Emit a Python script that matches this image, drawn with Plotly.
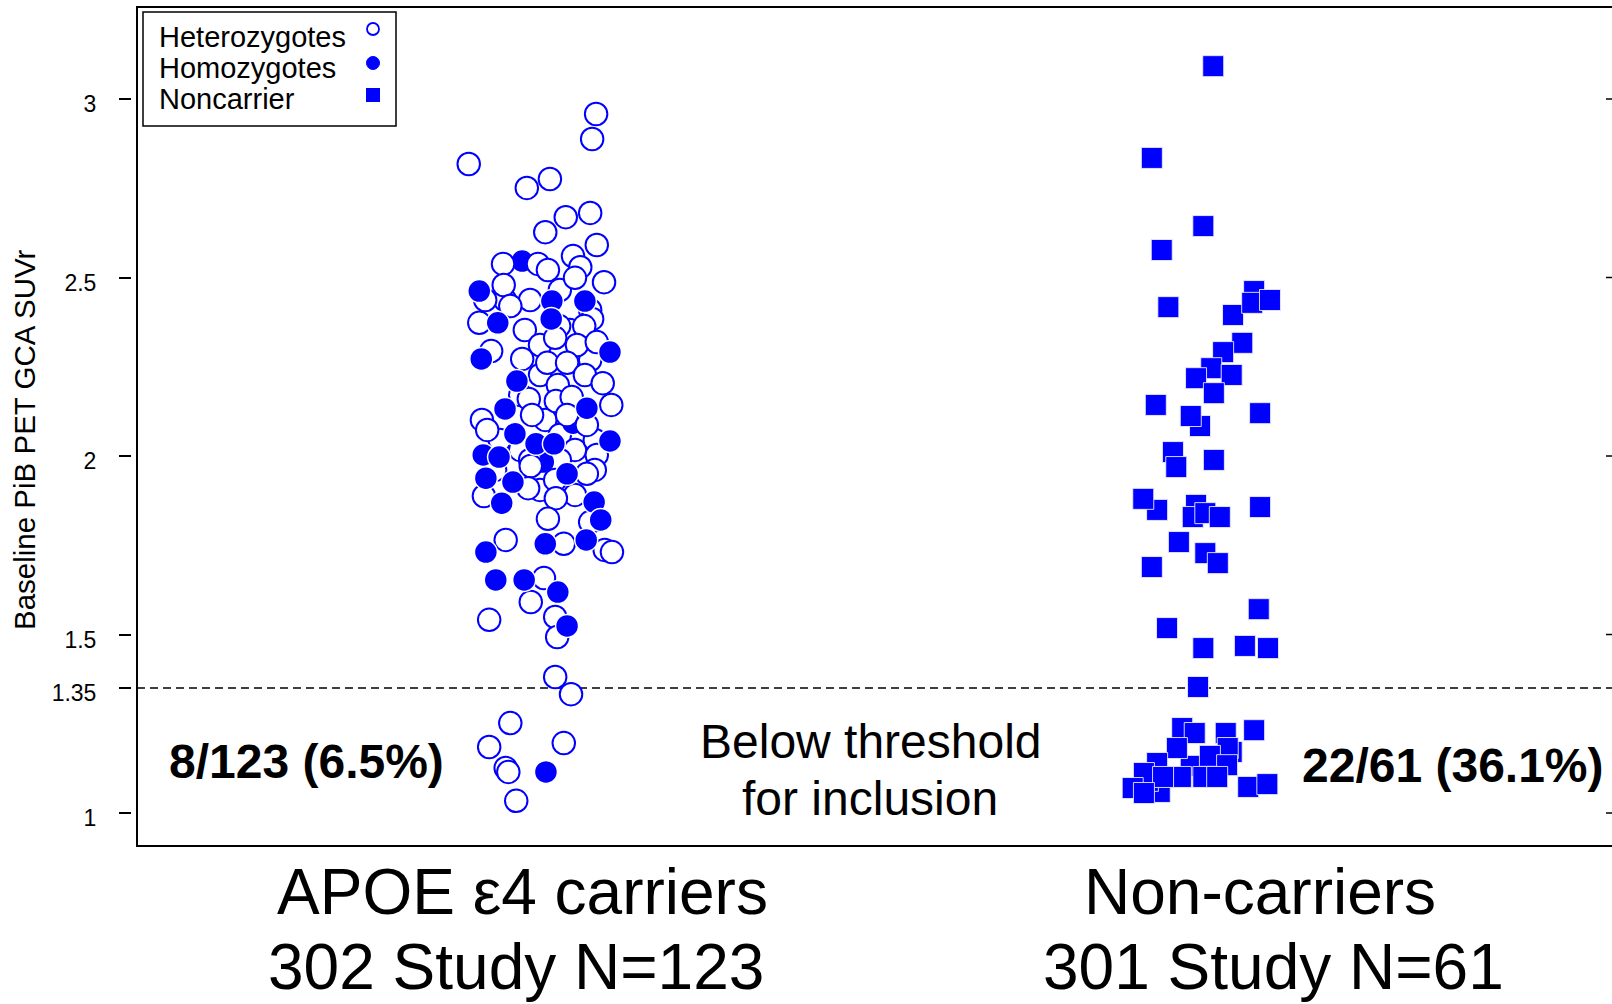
import plotly.graph_objects as go

# ---------------------------------------------------------------------------
# Data: baseline PiB PET GCA SUVr per subject, plus a small horizontal jitter
# (in category units) so overlapping subjects stay visible.
# ---------------------------------------------------------------------------

# APOE e4 heterozygotes (302 study); first 18 sit in the crowded middle and are drawn underneath
het_suvr = [
    2.353, 2.353, 2.227, 2.171, 2.101, 2.059, 2.045, 2.017, 2.017, 1.989,
    1.905, 1.891, 2.437, 2.465, 2.437, 2.269, 2.045, 1.961,
    2.958, 2.888, 2.818, 2.751, 2.776, 2.669, 2.681, 2.627, 2.591, 2.538,
    2.538, 2.521, 2.560, 2.529, 2.499, 2.487, 2.479, 2.437, 2.420, 2.409,
    2.373, 2.364, 2.384, 2.364, 2.311, 2.331, 2.311, 2.319, 2.294, 2.272,
    2.261, 2.261, 2.227, 2.204, 2.160, 2.199, 2.154, 2.165, 2.143, 2.115,
    2.101, 2.073, 2.115, 2.087, 1.989, 2.003, 1.972, 1.961, 1.950, 1.933,
    1.910, 1.888, 1.882, 1.815, 1.824, 1.765, 1.754, 1.737, 1.731, 1.658,
    1.591, 1.549, 1.541, 1.493, 1.381, 1.333, 1.252, 1.185, 1.196, 1.126,
    1.115, 1.034,
]
het_jitter = [
    -0.023, 0.045, 0.000, -0.030, 0.008, 0.030, -0.061, -0.030, 0.053, 0.030,
    0.000, 0.053, -0.053, 0.030, -0.015, 0.076, 0.083, -0.068,
    0.085, 0.079, -0.108, -0.020, 0.015, 0.039, 0.076, 0.008, 0.086, -0.056,
    -0.003, 0.012, 0.050, 0.061, 0.053, 0.097, -0.055, -0.083, -0.045, 0.076,
    -0.092, 0.029, 0.079, 0.067, 0.000, 0.023, 0.056, 0.086, -0.074, -0.027,
    0.011, 0.041, 0.068, 0.095, -0.017, 0.027, 0.024, 0.048, 0.108, -0.012,
    -0.088, -0.080, 0.041, 0.071, -0.015, 0.086, -0.014, 0.083, 0.071, 0.023,
    -0.018, -0.085, 0.024, 0.076, 0.012, -0.052, 0.036, 0.098, 0.109, 0.006,
    -0.014, 0.023, -0.077, 0.026, 0.023, 0.047, -0.045, -0.077, 0.036, -0.052,
    -0.048, -0.036,
]

# APOE e4 homozygotes (302 study); first 3 are partly covered by heterozygotes
hom_suvr = [
    2.092, 1.983, 2.546,
    2.462, 2.434, 2.434, 2.373, 2.384, 2.272, 2.291, 2.210, 2.132, 2.134,
    2.062, 2.034, 2.034, 2.042, 2.003, 1.997, 1.950, 1.938, 1.927, 1.868,
    1.871, 1.821, 1.731, 1.754, 1.765, 1.653, 1.653, 1.619, 1.524, 1.115,
]
hom_jitter = [
    0.050, 0.005, -0.027,
    -0.092, 0.018, 0.068, -0.064, 0.017, -0.089, 0.106, -0.035, -0.053, 0.071,
    -0.038, -0.006, 0.021, 0.106, -0.086, -0.062, 0.041, -0.082, -0.041, -0.058,
    0.082, 0.092, -0.082, 0.008, 0.070, -0.067, -0.024, 0.027, 0.041, 0.009,
]

# Non-carriers (301 study)
noncarrier_suvr = [
    2.462, 2.084, 2.011, 1.849, 1.863, 1.059, 1.132, 1.171, 1.090,
    3.092, 2.835, 2.644, 2.577, 2.417, 2.395, 2.429, 2.437, 2.317, 2.291,
    2.246, 2.227, 2.218, 2.176, 2.143, 2.120, 2.112, 1.969, 1.989, 1.880,
    1.829, 1.840, 1.829, 1.857, 1.759, 1.728, 1.700, 1.689, 1.571, 1.518,
    1.462, 1.468, 1.462, 1.353,
    1.238, 1.224, 1.224, 1.232, 1.182, 1.182, 1.160, 1.140, 1.134, 1.112,
    1.101, 1.101, 1.101, 1.101, 1.070, 1.056, 1.073, 1.081,
]
noncarrier_jitter = [
    0.082, 0.000, -0.041, -0.065, -0.006, -0.061, -0.014, 0.048, -0.079,
    0.020, -0.073, 0.005, -0.058, -0.048, 0.050, 0.079, 0.106, 0.064, 0.035,
    0.017, 0.048, -0.006, 0.021, -0.067, 0.091, -0.014, -0.036, 0.021, -0.086,
    -0.011, 0.008, 0.030, 0.091, -0.032, 0.008, 0.027, -0.073, 0.089, -0.050,
    0.005, 0.068, 0.103, -0.003,
    -0.027, -0.008, 0.039, 0.082, -0.035, 0.042, 0.015, -0.065, 0.041, -0.085,
    -0.029, 0.005, 0.026, -0.056, -0.102, -0.085, 0.073, 0.102,
]

group_positions = [1, 2]
group_names = ["APOE ε4 carriers", "Non-carriers"]
group_studies = ["302", "301"]
legend_labels = ["Heterozygotes", "Homozygotes", "Noncarrier"]

threshold = 1.35
y_tickvals = [1, 1.35, 1.5, 2, 2.5, 3]
y_ticktext = ["1", "1.35", "1.5", "2", "2.5", "3"]
right_tickvals = [1, 1.5, 2, 2.5, 3]

# ---------------------------------------------------------------------------
# Layout constants (pixels)
# ---------------------------------------------------------------------------
W, H = 1612, 1004
MT, MB = 7, 158
PLOT_LEFT = 137
FONT = "Liberation Sans, Arial, Helvetica, sans-serif"
BLUE = "#0000FF"


def px_x(p):
    return p / W


def px_y(p):
    return (H - MB - p) / (H - MT - MB)


fig = go.Figure()

# carriers: draw in layers so partly hidden subjects stay underneath
carrier_layers = [
    ("het", 0, 18),
    ("hom", 0, 3),
    ("het", 18, len(het_suvr)),
    ("hom", 3, len(hom_suvr)),
]
for kind, i0, i1 in carrier_layers:
    if kind == "het":
        ys, js = het_suvr[i0:i1], het_jitter[i0:i1]
        marker = dict(symbol="circle", size=22.5, color="white",
                      line=dict(color=BLUE, width=2))
        name = legend_labels[0]
    else:
        ys, js = hom_suvr[i0:i1], hom_jitter[i0:i1]
        marker = dict(symbol="circle", size=23, color=BLUE,
                      line=dict(color="white", width=1.5))
        name = legend_labels[1]
    fig.add_trace(go.Scatter(
        x=[group_positions[0] + j for j in js], y=ys,
        mode="markers", marker=marker, name=name,
        showlegend=False, hoverinfo="y",
    ))

fig.add_trace(go.Scatter(
    x=[group_positions[1] + j for j in noncarrier_jitter], y=noncarrier_suvr,
    mode="markers", name=legend_labels[2], showlegend=False, hoverinfo="y",
    marker=dict(symbol="square", size=21, color=BLUE,
                line=dict(color="rgba(235,235,255,0.9)", width=1)),
))

shapes = []
# plot frame (open on the right, continues past the page edge)
shapes.append(dict(type="rect", xref="paper", yref="paper",
                   x0=px_x(PLOT_LEFT), x1=1.02, y0=0, y1=1,
                   line=dict(color="black", width=2), fillcolor="rgba(0,0,0,0)",
                   layer="below"))
# inclusion threshold
shapes.append(dict(type="line", xref="paper", yref="y",
                   x0=px_x(PLOT_LEFT), x1=1, y0=threshold, y1=threshold,
                   line=dict(color="black", width=1.5, dash="8px,5px"),
                   layer="below"))
# right-hand tick marks
for v in right_tickvals:
    shapes.append(dict(type="line", xref="paper", yref="y",
                       x0=px_x(1606), x1=1, y0=v, y1=v,
                       line=dict(color="black", width=1.5)))

# legend box and keys
shapes.append(dict(type="rect", xref="paper", yref="paper",
                   x0=px_x(143), x1=px_x(396), y0=px_y(126), y1=px_y(12),
                   line=dict(color="black", width=1.5), fillcolor="white"))
shapes.append(dict(type="circle", xref="paper", yref="paper",
                   x0=px_x(367), x1=px_x(379), y0=px_y(35), y1=px_y(23),
                   line=dict(color=BLUE, width=1.8), fillcolor="white"))
shapes.append(dict(type="circle", xref="paper", yref="paper",
                   x0=px_x(366.5), x1=px_x(379.5), y0=px_y(69.5), y1=px_y(56.5),
                   line=dict(color=BLUE, width=1), fillcolor=BLUE))
shapes.append(dict(type="rect", xref="paper", yref="paper",
                   x0=px_x(366), x1=px_x(380), y0=px_y(102), y1=px_y(88),
                   line=dict(color=BLUE, width=0), fillcolor=BLUE))

annotations = []


def add_text(text, x, y, size, bold=False, xanchor="center", angle=0):
    annotations.append(dict(
        text=f"<b>{text}</b>" if bold else text,
        xref="paper", yref="paper", x=px_x(x), y=px_y(y),
        xanchor=xanchor, yanchor="middle", showarrow=False, textangle=angle,
        font=dict(family=FONT, size=size, color="black"),
    ))


# legend labels
for label, ly in zip(legend_labels, [37, 68, 99]):
    add_text(label, 157, ly, 29, xanchor="left")

# y-axis title
add_text("Baseline PiB PET GCA SUVr", 25, 440, 29.5, angle=-90)

# group captions
n_carriers = len(het_suvr) + len(hom_suvr)
n_noncarriers = len(noncarrier_suvr)
add_text(group_names[0], 522, 892, 64)
add_text(f"{group_studies[0]} Study N={n_carriers}", 516, 967, 64)
add_text(group_names[1], 1260, 892, 64)
add_text(f"{group_studies[1]} Study N={n_noncarriers}", 1273, 967, 64)

# counts below the inclusion threshold
below_carriers = sum(v < threshold for v in het_suvr + hom_suvr)
below_non = sum(v < threshold for v in noncarrier_suvr)
add_text(f"{below_carriers}/{n_carriers} ({100 * below_carriers / n_carriers:.1f}%)",
         306, 761, 48, bold=True)
add_text(f"{below_non}/{n_noncarriers} ({100 * below_non / n_noncarriers:.1f}%)",
         1453, 765, 48, bold=True)
add_text("Below threshold", 871, 741, 48)
add_text("for inclusion", 870, 798, 48)

fig.update_layout(
    width=W, height=H,
    margin=dict(l=0, r=0, t=MT, b=MB),
    plot_bgcolor="white", paper_bgcolor="white",
    font=dict(family=FONT, color="black"),
    xaxis=dict(domain=[px_x(PLOT_LEFT), 1], range=[0.3894, 2.6242],
               visible=False, fixedrange=True),
    yaxis=dict(anchor="free", position=px_x(131),
               range=[0.9076, 3.2577], tickmode="array",
               tickvals=y_tickvals, ticktext=y_ticktext,
               ticks="outside", ticklen=12, tickwidth=1.5, tickcolor="black",
               showline=False, showgrid=False, zeroline=False,
               tickfont=dict(family=FONT, size=23, color="black"),
               ticklabelstandoff=18, ticklabelshift=5, fixedrange=True),
    shapes=shapes,
    annotations=annotations,
    showlegend=False,
)

fig.write_html("out.html")
